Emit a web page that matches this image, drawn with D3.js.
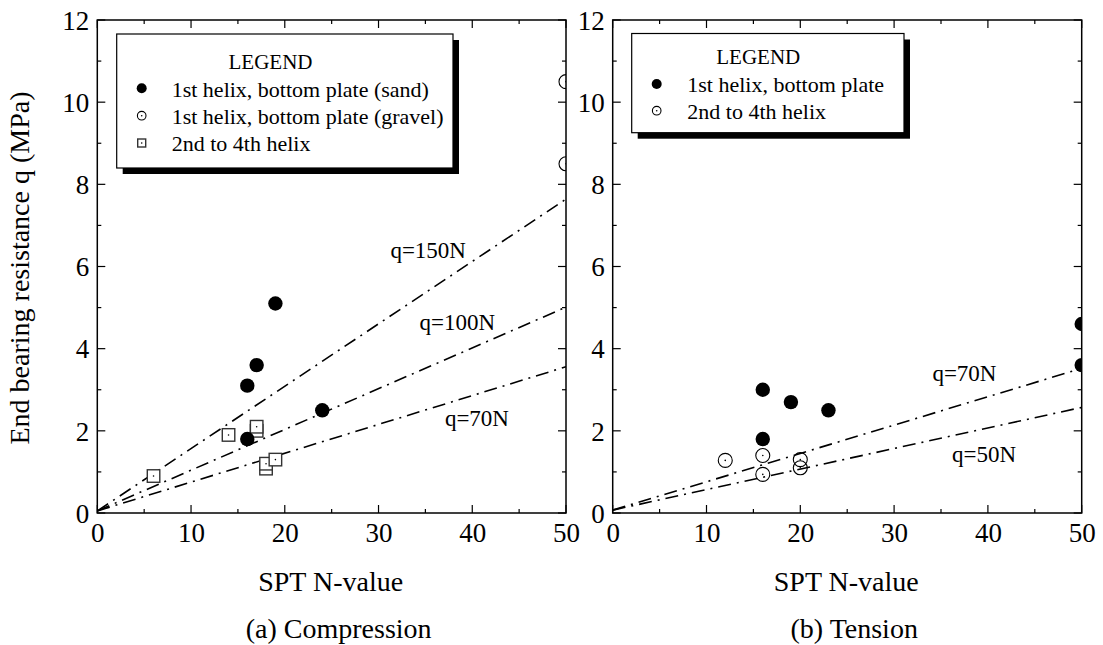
<!DOCTYPE html>
<html><head><meta charset="utf-8">
<script src="https://cdn.jsdelivr.net/npm/d3@7/dist/d3.min.js"></script>
<style>body{margin:0;background:#fff}svg{display:block}text{font-family:"Liberation Serif","Times New Roman",serif;fill:#000}</style>
</head><body>
<svg id="c" width="1103" height="645"></svg>
<script>
// ---- data ----
const xTicks = [0,10,20,30,40,50];
const yTicks = [0,2,4,6,8,10,12];
// (a) Compression
const compSandN = [16,16,17,19,24];
const compSandQ = [1.8,3.1,3.6,5.1,2.5];
const compGravelN = [50,50];
const compGravelQ = [10.5,8.5];
const compUpperN = [6,14,17,17,18,18,19];
const compUpperQ = [0.9,1.9,2.0,2.1,1.08,1.2,1.3];
const compLineNames = ["q=150N","q=100N","q=70N"];
const compLineStartQ = [0.05,0.05,0.05];
const compLineEndQ = [7.64,5.01,3.56];
const compLineLabelN = [35.3,38.4,40.5];
const compLineLabelQ = [6.4,4.65,2.3];
// (b) Tension
const tenBottomN = [16,16,19,23,50,50];
const tenBottomQ = [3.0,1.8,2.7,2.5,3.6,4.6];
const tenUpperN = [12,16,16,20,20];
const tenUpperQ = [1.28,1.4,0.94,1.3,1.1];
const tenLineNames = ["q=70N","q=50N"];
const tenLineStartQ = [0.07,0.07];
const tenLineEndQ = [3.52,2.57];
const tenLineLabelN = [37.5,39.6];
const tenLineLabelQ = [3.4,1.42];
const compLegend = ["1st helix, bottom plate (sand)","1st helix, bottom plate (gravel)","2nd to 4th helix"];
const tenLegend = ["1st helix, bottom plate","2nd to 4th helix"];

const svg = d3.select("#c");
const plotTop = 20, plotBottom = 513;

function panel(id, x0, x1, opts){
  const x = d3.scaleLinear().domain([0,50]).range([x0,x1]);
  const y = d3.scaleLinear().domain([0,12]).range([plotBottom,plotTop]);
  const g = svg.append("g");
  g.append("clipPath").attr("id","clip"+id).append("rect")
    .attr("x",x0).attr("y",plotTop).attr("width",x1-x0).attr("height",plotBottom-plotTop);
  const xt = d3.range(0,51,5), yt = d3.range(0,13,1);
  xt.forEach(v=>{
    const L = v%10===0?8:4;
    g.append("line").attr("x1",x(v)).attr("x2",x(v)).attr("y1",plotBottom).attr("y2",plotBottom-L).attr("stroke","#000").attr("stroke-width",1.2);
    g.append("line").attr("x1",x(v)).attr("x2",x(v)).attr("y1",plotTop).attr("y2",plotTop+L).attr("stroke","#000").attr("stroke-width",1.2);
  });
  yt.forEach(v=>{
    const L = v%2===0?8:4;
    g.append("line").attr("y1",y(v)).attr("y2",y(v)).attr("x1",x0).attr("x2",x0+L).attr("stroke","#000").attr("stroke-width",1.2);
    g.append("line").attr("y1",y(v)).attr("y2",y(v)).attr("x1",x1).attr("x2",x1-L).attr("stroke","#000").attr("stroke-width",1.2);
  });
  g.append("rect").attr("x",x0).attr("y",plotTop).attr("width",x1-x0).attr("height",plotBottom-plotTop)
    .attr("fill","none").attr("stroke","#000").attr("stroke-width",1.5);
  const xa = d3.axisBottom(x).tickValues(xTicks).tickSize(0).tickPadding(0);
  const gx = g.append("g").attr("transform",`translate(0,${plotBottom})`).call(xa);
  gx.select(".domain").remove();
  gx.selectAll("text").attr("font-size",27).attr("dy",null).attr("y",29).style("font-family","Liberation Serif");
  const ya = d3.axisLeft(y).tickValues(yTicks).tickSize(0).tickPadding(0);
  const gy = g.append("g").attr("transform",`translate(${x0-8},0)`).call(ya);
  gy.select(".domain").remove();
  gy.selectAll("text").attr("font-size",27).attr("dy","0.34em").attr("x",0).style("font-family","Liberation Serif");
  g.append("text").attr("x",(x0+x1)/2 - 1).attr("y",591).attr("text-anchor","middle").attr("font-size",28).text("SPT N-value");
  g.append("text").attr("x",(x0+x1)/2 + 7).attr("y",638).attr("text-anchor","middle").attr("font-size",28).text(opts.caption);
  const lg = g.append("g").attr("clip-path",`url(#clip${id})`);
  const pg = g.append("g").attr("clip-path",`url(#clip${id})`);
  opts.lineNames.forEach((nm,i)=>{
    lg.append("line").attr("x1",x(0)).attr("y1",y(opts.ls[i])).attr("x2",x(50)).attr("y2",y(opts.le[i]))
      .attr("stroke","#000").attr("stroke-width",1.6).attr("stroke-dasharray","13,6,2,6");
    g.append("text").attr("x",x(opts.lx[i])).attr("y",y(opts.ly[i])).attr("dy","0.33em")
      .attr("text-anchor","middle").attr("font-size",23).text(nm);
  });
  return {g:pg, x, y, gAll:g};
}

function filled(g, cx, cy, r){ g.append("circle").attr("cx",cx).attr("cy",cy).attr("r",r).attr("fill","#000"); }
function openC(g, cx, cy, r){
  g.append("circle").attr("cx",cx).attr("cy",cy).attr("r",r).attr("fill","none").attr("stroke","#000").attr("stroke-width",1.1);
  g.append("circle").attr("cx",cx).attr("cy",cy).attr("r",0.8).attr("fill","#000");
}
function square(g, cx, cy, s){
  g.append("rect").attr("x",cx-s/2).attr("y",cy-s/2).attr("width",s).attr("height",s).attr("fill","#fff").attr("stroke","#333").attr("stroke-width",1.4);
  g.append("circle").attr("cx",cx).attr("cy",cy).attr("r",0.8).attr("fill","#000");
}

const A = panel("a", 97.3, 566, {caption:"(a) Compression", lineNames:compLineNames, ls:compLineStartQ, le:compLineEndQ, lx:compLineLabelN, ly:compLineLabelQ});
compUpperN.forEach((n,i)=>square(A.g, A.x(n), A.y(compUpperQ[i]), 12.5));
compSandN.forEach((n,i)=>filled(A.g, A.x(n), A.y(compSandQ[i]), 7.2));
compGravelN.forEach((n,i)=>openC(A.g, A.x(n), A.y(compGravelQ[i]), 7));

const B = panel("b", 612.7, 1081.7, {caption:"(b) Tension", lineNames:tenLineNames, ls:tenLineStartQ, le:tenLineEndQ, lx:tenLineLabelN, ly:tenLineLabelQ});
tenUpperN.forEach((n,i)=>openC(B.g, B.x(n), B.y(tenUpperQ[i]), 7));
tenBottomN.forEach((n,i)=>filled(B.g, B.x(n), B.y(tenBottomQ[i]), 7.2));

svg.append("text").attr("transform","translate(29,268) rotate(-90)").attr("text-anchor","middle").attr("font-size",28).text("End bearing resistance q (MPa)");

function legend(x0,y0,w,h,titleX,titleY,items,markX,textX,rowYs,markers){
  svg.append("rect").attr("x",x0+6).attr("y",y0+6).attr("width",w).attr("height",h).attr("fill","#000");
  svg.append("rect").attr("x",x0).attr("y",y0).attr("width",w).attr("height",h).attr("fill","#fff").attr("stroke","#000").attr("stroke-width",1.2);
  svg.append("text").attr("x",titleX).attr("y",titleY).attr("dy","0.35em").attr("text-anchor","middle").attr("font-size",21).text("LEGEND");
  items.forEach((t,i)=>{
    svg.append("text").attr("x",textX).attr("y",rowYs[i]).attr("dy","0.33em").attr("font-size",22).text(t);
    const m = markers[i];
    if(m==="f") filled(svg, markX, rowYs[i]-1, 5);
    else if(m==="o") openC(svg, markX, rowYs[i]-1, 4.3);
    else square(svg, markX, rowYs[i]-1, 8);
  });
}
legend(116.7,34,336.3,134,270.5,61.7,compLegend,141.7,171.7,[89.3,116.7,144],["f","o","s"]);
legend(631.7,33.5,272.3,99.2,758.3,56.7,tenLegend,656.7,687.3,[85,111.7],["f","o"]);
</script>
</body></html>
